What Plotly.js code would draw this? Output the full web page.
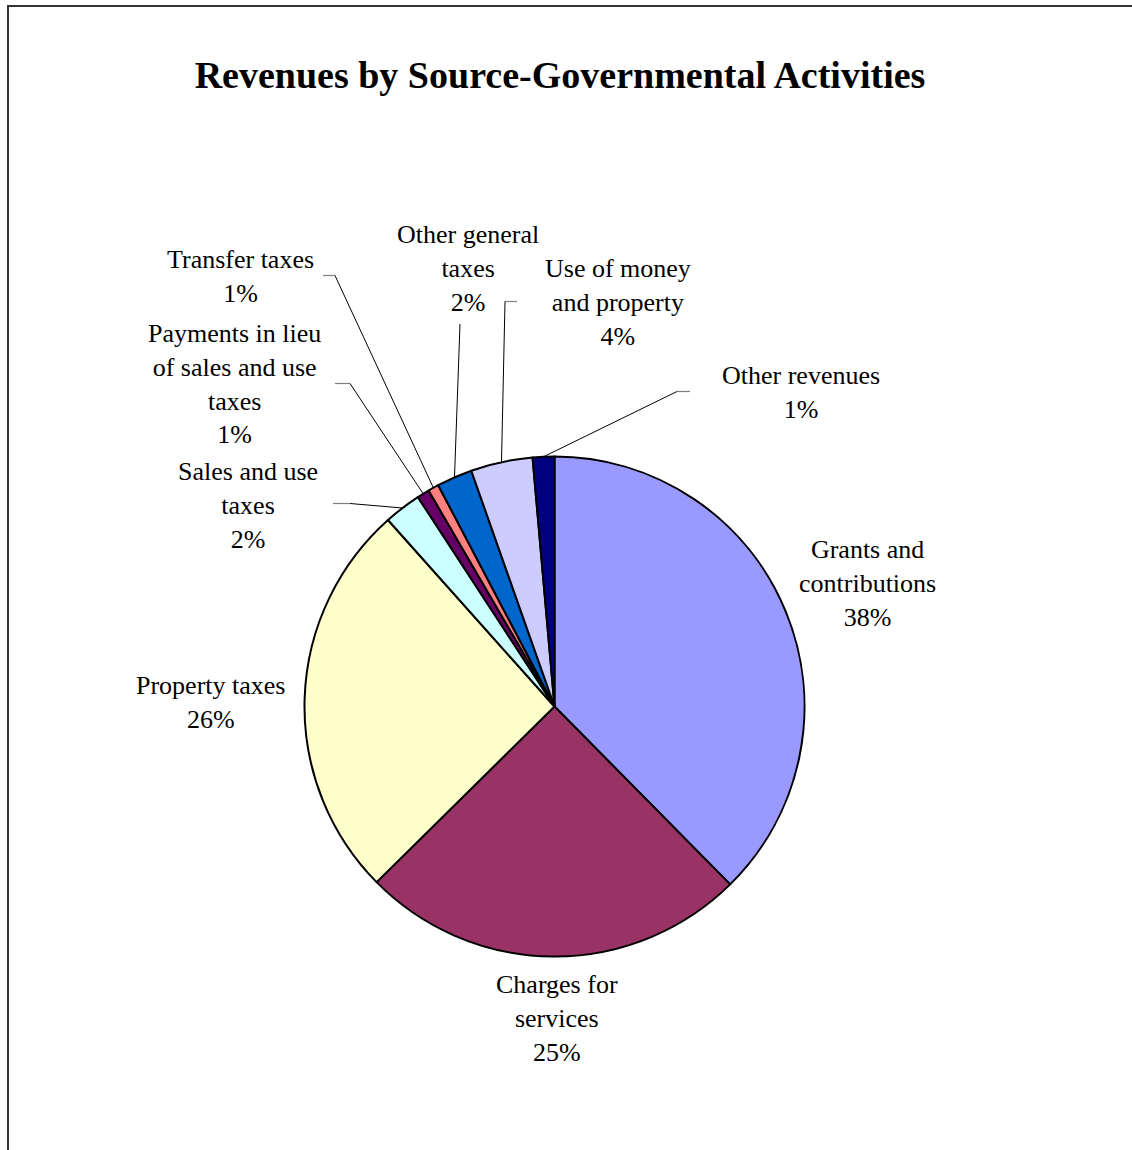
<!DOCTYPE html>
<html>
<head>
<meta charset="utf-8">
<script src="https://cdn.plot.ly/plotly-3.0.1.min.js"></script>
<style>html,body{margin:0;padding:0;background:#fff;}#chart{width:1132px;height:1150px;}</style>
</head>
<body>
<div id="chart"></div>
<script>
// ---- data ----
const categories = ['Grants and contributions','Charges for services','Property taxes','Sales and use taxes','Payments in lieu of sales and use taxes','Transfer taxes','Other general taxes','Use of money and property','Other revenues'];
const values = [37.6, 25.0, 25.8, 2.4, 0.8, 0.7, 2.3, 4.0, 1.4];
const labelLines = ['Grants and<br>contributions','Charges for<br>services','Property taxes','Sales and use<br>taxes','Payments in lieu<br>of sales and use<br>taxes','Transfer taxes','Other general<br>taxes','Use of money<br>and property','Other revenues'];
const colors = ['#9999FF','#993366','#FFFFCC','#CCFFFF','#660066','#FF8080','#0066CC','#CCCCFF','#000080'];

// ---- layout constants (pixels) ----
const W = 1132, H = 1150;
const CX = 554.5, CY = 706.5, R = 250;
const px = x => x / W, py = y => 1 - y / H;
// label block centres and leader elbows (null = no leader)
const place = [
  {x: 867, y: 583, stub: null},
  {x: 557, y: 1019, stub: null},
  {x: 210, y: 702, stub: null},
  {x: 248, y: 505, stub: [[333, 503.5], [350, 503.5]]},
  {x: 234, y: 384, stub: [[335, 383.5], [350, 383.5]]},
  {x: 240, y: 276, stub: [[323, 275.5], [335, 275.5]]},
  {x: 468, y: 269, stub: [[460, 324], [460, 324]]},
  {x: 618, y: 303, stub: [[517, 301.5], [505, 301.5]]},
  {x: 801, y: 393, stub: [[690, 391.5], [677, 391.5]]}
];

const total = values.reduce((a, b) => a + b, 0);
const font = {family: 'Liberation Serif, Times New Roman, serif', size: 26, color: '#000'};
const annotations = [];
const shapes = [];
let cum = 0;
values.forEach((v, i) => {
  const pct = Math.round(v / total * 100);
  const mid = (cum + v / 2) / total * 2 * Math.PI;
  cum += v;
  const p = place[i];
  annotations.push({
    xref: 'paper', yref: 'paper', x: px(p.x), y: py(p.y),
    xanchor: 'center', yanchor: 'middle', showarrow: false, align: 'center',
    text: labelLines[i] + '<br>' + pct + '%', font: font
  });
  if (p.stub) {
    const ex = CX + R * Math.sin(mid), ey = CY - R * Math.cos(mid);
    if (p.stub[0][0] !== p.stub[1][0]) {
      shapes.push({type: 'line', xref: 'paper', yref: 'paper',
        x0: px(p.stub[0][0]), y0: py(p.stub[0][1]), x1: px(p.stub[1][0]), y1: py(p.stub[1][1]),
        line: {color: '#7f7f7f', width: 1.2}});
    }
    shapes.push({type: 'line', xref: 'paper', yref: 'paper',
      x0: px(p.stub[1][0]), y0: py(p.stub[1][1]), x1: px(ex), y1: py(ey),
      line: {color: '#000', width: 1}});
  }
});
// chart frame
shapes.push({type: 'rect', xref: 'paper', yref: 'paper', x0: px(8), y0: -0.02, x1: 1.02, y1: py(6),
  line: {color: '#333', width: 2}, fillcolor: 'rgba(0,0,0,0)'});

const trace = {
  type: 'pie', labels: categories, values: values, sort: false, direction: 'clockwise', rotation: 0,
  textinfo: 'none', hoverinfo: 'label+percent',
  marker: {colors: colors, line: {color: '#000', width: 2}},
  domain: {x: [px(CX - R), px(CX + R)], y: [py(CY + R), py(CY - R)]},
  showlegend: false
};

const layout = {
  width: W, height: H, margin: {l: 0, r: 0, t: 0, b: 0},
  paper_bgcolor: '#fff', plot_bgcolor: '#fff', showlegend: false,
  title: {text: '<b>Revenues by Source-Governmental Activities</b>', x: px(560), xanchor: 'center',
    y: py(75), yanchor: 'middle', yref: 'paper',
    font: {family: 'Liberation Serif, Times New Roman, serif', size: 38, color: '#000'}},
  annotations: annotations, shapes: shapes
};
Plotly.newPlot('chart', [trace], layout, {staticPlot: true});
</script>
</body>
</html>
